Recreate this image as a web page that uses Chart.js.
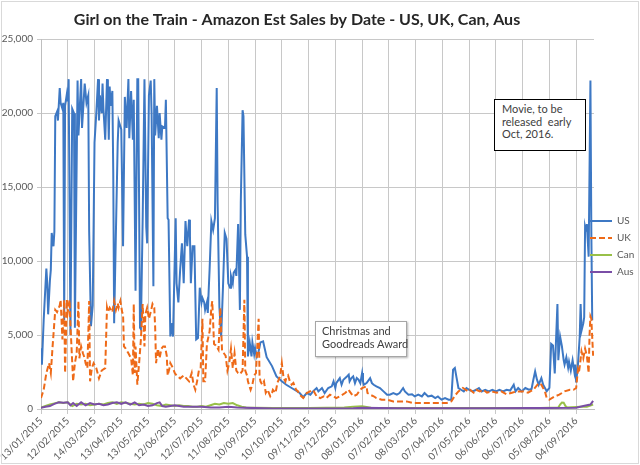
<!DOCTYPE html>
<html>
<head>
<meta charset="utf-8">
<script src="https://cdn.jsdelivr.net/npm/chart.js@4.4.1/dist/chart.umd.min.js"></script>
<style>
  html, body { margin: 0; padding: 0; background: #fff; }
  #wrap { position: relative; width: 640px; height: 465px; font-family: Lato, sans-serif; }
  #frame { position: absolute; left: 1px; top: 1px; width: 636px; height: 461px; border: 1px solid #D9D9D9; pointer-events: none; }
  .note { position: absolute; background: #fff; color: #404040; font-size: 11px; line-height: 12.7px; box-sizing: border-box; white-space: nowrap; }
  #movie { left: 494px; top: 99px; width: 92px; height: 52px; border: 1px solid #000; padding: 3px 0 0 7px; }
  #xmas { left: 315px; top: 321px; width: 92px; height: 36px; border: 1px solid #A6A6A6; padding: 3px 0 0 6px; box-shadow: 1px 1px 2px rgba(0,0,0,.3); }
</style>
</head>
<body>
<div id="wrap">
  <canvas id="salesChart"></canvas>
  <div class="note" id="movie">Movie, to be<br>released&nbsp; early<br>Oct, 2016.</div>
  <div class="note" id="xmas">Christmas and<br>Goodreads Award</div>
  <div id="frame"></div>
</div>
<script>
// day 0 = 13/01/2015, one tick label every 30 days
const xTickLabels = ['13/01/2015', '12/02/2015', '14/03/2015', '13/04/2015', '13/05/2015', '12/06/2015',
  '12/07/2015', '11/08/2015', '10/09/2015', '10/10/2015', '09/11/2015', '09/12/2015', '08/01/2016',
  '07/02/2016', '08/03/2016', '07/04/2016', '07/05/2016', '06/06/2016', '06/07/2016', '05/08/2016', '04/09/2016']

const usDay = [0, 1, 3, 6, 7, 8, 10, 11, 12, 14, 15, 16, 18, 19, 21, 22, 24, 25, 26, 27, 29, 30, 31, 33, 35, 37, 38,
  41, 42, 45, 46, 48, 49, 51, 53, 54, 56, 58, 60, 62, 64, 65, 66, 68, 69, 70, 72, 74, 75, 76, 77, 78, 80, 81, 82,
  84, 86, 87, 90, 92, 94, 96, 98, 99, 101, 103, 104, 106, 108, 109, 111, 112, 114, 116, 118, 119, 121, 123, 124,
  126, 127, 128, 130, 132, 133, 135, 136, 139, 140, 142, 143, 145, 146, 148, 151, 152, 154, 156, 158, 160, 162,
  163, 164, 166, 167, 168, 170, 172, 174, 176, 178, 180, 181, 183, 184, 186, 187, 188, 189, 191, 193, 195, 197,
  198, 200, 202, 204, 206, 208, 210, 212, 213, 215, 216, 218, 219, 221, 223, 224, 226, 227, 229, 231, 232, 234,
  236, 237, 239, 240, 242, 244, 246, 249, 253, 259, 264, 270, 275, 281,
  287, 290, 294, 298, 302, 305, 309, 311, 315, 318, 322, 326, 328, 330, 331, 335, 337, 339, 343, 345,
  346, 348, 350, 352, 354, 356, 358, 360, 361, 362, 365, 369, 371, 373, 376, 380, 384, 388, 391, 395,
  399, 402, 406, 408, 412, 416, 419, 423, 427, 430, 434, 438, 442, 445, 449, 453, 457, 460, 462, 464,
  466, 468, 471, 474, 477, 480, 484, 488, 491, 494, 498, 502, 506, 510, 514, 518, 522, 526, 530, 532,
  535, 539, 543, 547, 550, 552, 554, 556, 558, 561, 563, 565, 567, 570, 572, 574, 576, 579, 580, 582,
  584, 586, 587, 589, 591, 592, 594, 596, 598, 599, 600, 602, 604, 605, 606, 608, 609, 610, 611, 612,
  614, 616, 617, 618]
const usSales = [4100, 3000, 6000, 9500, 8500, 6400, 8700, 9400, 11900, 11000, 12000, 19800, 20100, 19500, 21700,
  20700, 20300, 20700, 6000, 20500, 21300, 20800, 22300, 5000, 20300, 20000, 5500,
  22200, 18500, 22300, 19000, 21000, 22000, 20700, 21200, 12000, 5600, 7000, 18000, 20000, 22300, 19500, 21200,
  20000, 22000, 20300, 18200, 22300, 21000, 18200, 21800, 20500, 21500, 16000, 5800,
  12000, 18000, 19500, 18900, 11000, 21100, 19000, 22300, 18300, 21500, 18200, 20900, 8000, 22300, 22300, 5500,
  5400, 12900, 22300, 12300, 11200, 21200, 22200, 20000,
  8300, 22300, 18500, 20500, 18300, 20000, 18200, 19100, 19000, 20900, 12900, 12800, 4900, 5800, 4900, 12900,
  8500, 7200, 9400, 11200, 8500, 12700,
  11800, 11000, 12800, 11700, 8500, 11000, 11000, 4700, 4800, 8200, 7200, 7500, 7200, 6700, 7200, 6500, 8000,
  9400, 12700, 12100, 12900, 21700,
  14000, 6900, 4900, 8200, 11900, 11500, 8500, 8200, 9000, 8500, 9200, 9400, 9000, 12500, 6700, 14000, 20200,
  19800, 11800, 10300, 3550, 4500,
  3550, 4500, 3700, 4100, 3550, 3900, 4500, 4570, 3500, 2900, 2200, 1870, 1640, 1420,
  1200, 1080, 800, 1080, 966, 1190, 1418, 1190, 1418, 1080, 1418, 1530, 1867, 1418, 1750, 2090, 1640, 1980, 2200, 2320,
  1867, 2090, 2200, 1750, 2090, 1980, 1750, 2430, 1867, 1640, 1750, 2090, 1750, 1640, 1530, 1418, 1190, 966, 966, 1080,
  966, 1080, 1418, 1190, 966, 1000, 850, 966, 850, 1080, 850, 900, 740, 850, 630, 740, 630, 630, 2650, 2770,
  2090, 1418, 1300, 1190, 1418, 1300, 1190, 1300, 1418, 1190, 1300, 1190, 1300, 1190, 1300, 1190, 1300, 1250, 1640, 1190,
  1418, 1190, 1418, 1300, 1350, 1980, 2540, 2000, 1640, 2090, 1640, 1420, 1200, 1420, 4400, 4300, 2400, 7100, 3300, 4900,
  4250, 3300, 3000, 3500, 2800, 3200, 2600, 3300, 2500, 3000, 1800, 3000, 4900, 7100, 5300, 5800, 6200, 12300, 12000, 12500,
  10300, 22200, 12000, 6000]

const ukDay = [0, 3, 6, 9, 11, 13, 16, 18, 21, 22, 24, 26, 27, 29, 30, 32, 33, 36, 38, 40, 42, 43, 45, 47, 49, 50,
  52, 54, 55, 57, 59, 62, 65, 68, 72, 74, 75, 77, 80, 82, 84, 86, 87, 89, 91, 92, 93, 95, 98, 101, 103, 104, 105,
  106, 108, 110, 112, 114, 116, 117, 119, 121, 123, 125, 127, 128, 129, 131, 133, 135, 137, 139, 141, 142, 144,
  145, 148, 150, 152, 156, 160, 163, 166, 169, 171, 173, 175, 177, 179, 181, 182, 184, 186, 189, 191, 192, 194,
  196, 199, 201, 203, 205, 207, 209, 211, 213, 215, 217, 219, 221, 223, 226, 228, 229, 231, 232, 235, 237, 239,
  241, 244, 245, 246, 248, 250, 252, 254, 257, 259, 260, 263, 265, 268, 270, 272, 274, 275, 277, 279, 281, 283,
  286, 288,
  290, 294, 298, 302, 304, 306, 309, 313, 317, 320, 324, 328, 331, 335, 341, 345, 346, 350, 354, 358,
  360, 365, 366, 369, 373, 376, 382, 388, 395, 402, 410, 417, 425, 432, 440, 447, 455, 460, 464, 468,
  473, 479, 481, 485, 488, 492, 496, 500, 505, 511, 516, 522, 528, 533, 541, 546, 552, 556, 558, 561,
  565, 567, 570, 576, 581, 587, 593, 597, 600, 602, 603, 604, 606, 608, 610, 612, 614, 615, 616, 617, 619]
const ukSales = [740, 1300, 2430, 3100, 2430, 4230, 6700, 6550, 7000, 7380, 4700, 7380, 2430, 7380, 6550, 7380,
  5700, 1870, 3100, 3770, 7300, 3430, 4230, 3770, 3430, 3100,
  2760, 7300, 1870, 2760, 3100, 2760, 2070, 2600, 2760, 6850, 6550, 6850, 6550, 7300, 6700, 7150, 6850, 7300,
  6550, 6400, 4230, 4080, 3770, 3430, 2270, 7100, 2430,
  4230, 1650, 3100, 4700, 7100, 4230, 6400, 6850, 6100, 6550, 7100, 6850, 5500, 3100, 4080, 3430, 4080, 4230,
  4230, 3600, 2270, 2760,
  3100, 2760, 2430, 2270, 2070, 2270, 2070, 1870, 2440, 1650, 1300, 1870, 2600, 2760, 6100, 1870, 1870, 4400,
  5240, 6850, 7300, 4400,
  4300, 4000, 6850, 3930, 3770, 3600, 2600, 3100, 4080, 2760, 3770, 2600, 2430, 2350, 2600, 7380, 2600, 2270,
  1870, 1300, 1650, 2270,
  2430, 6100, 2270, 1870, 1650, 1870, 1090, 1300, 870, 1090, 1300, 1090, 1760, 2200, 3100, 2070, 1870, 2100,
  2270, 1870, 1650, 1760,
  1300, 1200,
  966, 740, 1080, 1200, 1300, 1190, 860, 740, 860, 740, 966, 860, 740, 860, 1080, 1300, 1190, 860, 966, 1300,
  1418, 1530, 1080, 966, 860, 740, 630, 630, 515, 515, 515, 405, 405, 405, 405, 405, 405, 515, 900, 1190,
  1420, 1190, 1300, 1100, 1300, 1190, 1300, 1100, 1190, 1100, 1190, 1000, 1100, 1190, 1190, 1100, 1300, 1600, 1750, 1640,
  1190, 740, 630, 850, 966, 1190, 1300, 1300, 1418, 2650, 2430, 2860, 3900, 3430, 4080, 3600, 2430, 5000, 6260, 6100, 3600]

const canDay = [0, 5, 10, 15, 20, 25, 30, 35, 40, 45, 50, 55, 60, 65, 70, 75, 80, 85, 90, 95, 100, 105, 110, 115,
  120, 125, 130, 135, 140, 145, 150, 155, 160, 165, 170, 175, 180, 185, 190, 195, 200, 205, 210, 215, 220, 225,
  230, 240, 260, 280, 300, 320, 340, 350, 360, 370, 400, 450, 500, 540, 560, 580, 582, 584, 586, 588, 590, 605,
  612, 619]
const canSales = [100, 200, 300, 380, 450, 400, 450, 200, 350, 300, 350, 250, 300, 350, 300, 400, 450, 350, 450,
  400, 350, 300, 350, 300,
  400, 350, 250, 200, 300, 250, 200, 250, 200, 200, 150, 150, 200, 150, 250, 350, 300, 400, 350, 400, 250, 150,
  100, 80, 60, 60, 60, 80, 100, 150, 180, 80, 60, 60, 60, 60, 60, 100, 300, 430, 420, 200, 100, 150,
  150, 300]

const ausDay = [0, 5, 10, 15, 20, 25, 30, 33, 36, 40, 45, 50, 55, 60, 65, 70, 75, 80, 85, 90, 95, 100, 105, 110,
  115, 120, 125, 130, 133, 136, 140, 145, 150, 155, 160, 170, 180, 190, 200, 210, 220, 240, 260, 300, 350, 360,
  400, 500, 550, 600, 608, 612, 616, 619]
const ausSales = [80, 150, 200, 350, 450, 420, 450, 250, 400, 200, 450, 250, 400, 300, 350, 250, 300, 400, 450,
  350, 450, 300, 450, 250,
  300, 200, 250, 400, 450, 200, 150, 200, 250, 200, 150, 150, 150, 100, 100, 150, 100, 60, 40, 40, 50, 80,
  50, 50, 60, 80, 200, 250, 300, 550]

function points(days, values) {
  return days.map((d, i) => ({ x: d, y: values[i] }))
}

const sideLegend = {
  id: 'sideLegend',
  afterDraw(chart) {
    const ctx = chart.ctx
    ctx.save()
    ctx.font = '10px Lato'
    ctx.textBaseline = 'middle'
    chart.data.datasets.forEach((ds, i) => {
      const y = 221 + i * 17
      ctx.strokeStyle = ds.borderColor
      ctx.lineWidth = 2
      ctx.setLineDash(ds.borderDash || [])
      ctx.beginPath()
      ctx.moveTo(590, y)
      ctx.lineTo(612, y)
      ctx.stroke()
      ctx.setLineDash([])
      ctx.fillStyle = '#595959'
      ctx.fillText(ds.label, 617, y)
    })
    ctx.restore()
  }
}

const canvas = document.getElementById('salesChart')
canvas.width = 640
canvas.height = 465

new Chart(canvas, {
  type: 'line',
  data: {
    datasets: [
      { label: 'US', data: points(usDay, usSales), borderColor: '#3D78C4', borderWidth: 2, order: 4 },
      { label: 'UK', data: points(ukDay, ukSales), borderColor: '#EE6A18', borderWidth: 2, borderDash: [6, 3], order: 3 },
      { label: 'Can', data: points(canDay, canSales), borderColor: '#98C048', borderWidth: 2, order: 2 },
      { label: 'Aus', data: points(ausDay, ausSales), borderColor: '#7A4EA6', borderWidth: 2, order: 1 }
    ]
  },
  options: {
    responsive: false,
    animation: false,
    devicePixelRatio: 1,
    layout: { padding: { left: 0, right: 46, top: 0, bottom: 0 } },
    elements: { point: { radius: 0 }, line: { tension: 0 } },
    plugins: {
      legend: { display: false },
      tooltip: { enabled: false },
      title: {
        display: true,
        text: 'Girl on the Train - Amazon Est Sales by Date - US, UK, Can, Aus',
        color: '#262626',
        font: { family: 'Lato', size: 16, weight: 'bold' },
        padding: { top: 10, bottom: 10 }
      }
    },
    scales: {
      x: {
        type: 'linear',
        min: 0,
        max: 620,
        afterFit: (scale) => { scale.height = 56 },
        afterBuildTicks: (scale) => { scale.ticks = scale.ticks.filter(t => t.value % 30 === 0) },
        grid: { color: '#C8C8C8', tickLength: 5 },
        border: { color: '#BFBFBF' },
        ticks: {
          stepSize: 30,
          autoSkip: false,
          minRotation: 45,
          maxRotation: 45,
          padding: 1,
          color: '#595959',
          font: { family: 'Lato', size: 10 },
          callback: (v) => xTickLabels[v / 30] || ''
        }
      },
      y: {
        min: 0,
        max: 25000,
        afterFit: (scale) => { scale.width = 41 },
        grid: { color: '#C8C8C8', tickLength: 4 },
        border: { color: '#BFBFBF' },
        ticks: {
          stepSize: 5000,
          padding: 4,
          color: '#595959',
          font: { family: 'Lato', size: 10 },
          callback: (v) => v.toLocaleString('en-US')
        }
      }
    }
  },
  plugins: [sideLegend]
})
</script>
</body>
</html>
